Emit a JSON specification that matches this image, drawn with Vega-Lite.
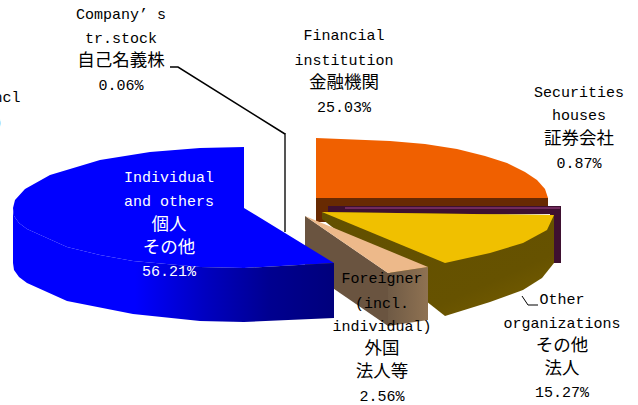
{
"$schema":"https://vega.github.io/schema/vega-lite/v6.json",
"width":638,"height":405,"padding":0,"autosize":"none","background":"white",
"config":{"view":{"stroke":null}},
"encoding":{
 "x":{"field":"x","type":"quantitative","axis":null,"scale":{"domain":[0,638],"nice":false,"zero":false}},
 "y":{"field":"y","type":"quantitative","axis":null,"scale":{"domain":[405,0],"nice":false,"zero":false}}
},
"layer":[
{"data":{"values":[{"i":0,"x":316,"y":198},{"i":1,"x":548,"y":198},{"i":2,"x":548,"y":208},{"i":3,"x":330,"y":208},{"i":4,"x":330,"y":222},{"i":5,"x":316,"y":222}]},
 "mark":{"type":"line","fill":"#682a02","strokeWidth":0},"encoding":{"order":{"field":"i","type":"quantitative"}}},
{"data":{"values":[{"i":0,"x":316,"y":138},{"i":1,"x":390,"y":141},{"i":2,"x":425,"y":144},{"i":3,"x":457,"y":149},{"i":4,"x":485,"y":156},{"i":5,"x":507,"y":163},{"i":6,"x":525,"y":172},{"i":7,"x":537,"y":180},{"i":8,"x":545,"y":189},{"i":9,"x":548,"y":198},{"i":10,"x":316,"y":198}]},
 "mark":{"type":"line","fill":"#f06000","strokeWidth":0},"encoding":{"order":{"field":"i","type":"quantitative"}}},
{"data":{"values":[{"i":0,"x":328,"y":206},{"i":1,"x":561,"y":206},{"i":2,"x":561,"y":263},{"i":3,"x":550,"y":263},{"i":4,"x":550,"y":214},{"i":5,"x":328,"y":214}]},
 "mark":{"type":"line","fill":"#3e1030","strokeWidth":0},"encoding":{"order":{"field":"i","type":"quantitative"}}},
{"data":{"values":[{"i":0,"x":345,"y":207},{"i":1,"x":560,"y":207},{"i":2,"x":560,"y":209},{"i":3,"x":345,"y":209}]},
 "mark":{"type":"line","fill":"#702a5c","strokeWidth":0},"encoding":{"order":{"field":"i","type":"quantitative"}}},
{"data":{"values":[{"i":0,"x":322,"y":212},{"i":1,"x":322,"y":219},{"i":2,"x":445,"y":316},{"i":3,"x":490,"y":302},{"i":4,"x":523,"y":290},{"i":5,"x":542,"y":278},{"i":6,"x":554,"y":263},{"i":7,"x":554,"y":215}]},
 "mark":{"type":"line","fill":{"gradient":"linear","x1":0,"y1":0,"x2":1,"y2":1,"stops":[{"offset":0,"color":"#625000"},{"offset":0.7,"color":"#665200"},{"offset":1,"color":"#7a6000"}]},"strokeWidth":0},"encoding":{"order":{"field":"i","type":"quantitative"}}},
{"data":{"values":[{"i":0,"x":322,"y":212},{"i":1,"x":554,"y":215},{"i":2,"x":547,"y":230},{"i":3,"x":523,"y":243},{"i":4,"x":490,"y":253},{"i":5,"x":445,"y":263}]},
 "mark":{"type":"line","fill":"#f0c000","strokeWidth":0},"encoding":{"order":{"field":"i","type":"quantitative"}}},
{"data":{"values":[{"i":0,"x":305,"y":216},{"i":1,"x":388,"y":273},{"i":2,"x":388,"y":326},{"i":3,"x":305,"y":269}]},
 "mark":{"type":"line","fill":"#6a5440","strokeWidth":0},"encoding":{"order":{"field":"i","type":"quantitative"}}},
{"data":{"values":[{"i":0,"x":388,"y":273},{"i":1,"x":428,"y":267},{"i":2,"x":428,"y":320},{"i":3,"x":388,"y":326}]},
 "mark":{"type":"line","fill":{"gradient":"linear","x1":0,"y1":0,"x2":1,"y2":0,"stops":[{"offset":0,"color":"#6f5a45"},{"offset":1,"color":"#8f7252"}]},"strokeWidth":0},"encoding":{"order":{"field":"i","type":"quantitative"}}},
{"data":{"values":[{"i":0,"x":305,"y":216},{"i":1,"x":428,"y":267},{"i":2,"x":388,"y":273}]},
 "mark":{"type":"line","fill":"#edb98a","strokeWidth":0},"encoding":{"order":{"field":"i","type":"quantitative"}}},
{"data":{"values":[{"i":0,"x":244,"y":147},{"i":1,"x":200,"y":148},{"i":2,"x":150,"y":152},{"i":3,"x":100,"y":160},{"i":4,"x":50,"y":175},{"i":5,"x":25,"y":189},{"i":6,"x":15,"y":200},{"i":7,"x":13,"y":208},{"i":8,"x":14,"y":216},{"i":9,"x":19,"y":223},{"i":10,"x":27,"y":229},{"i":11,"x":67,"y":247},{"i":12,"x":100,"y":255},{"i":13,"x":133,"y":261},{"i":14,"x":200,"y":267},{"i":15,"x":244,"y":268},{"i":16,"x":334,"y":263},{"i":17,"x":244,"y":208}]},
 "mark":{"type":"line","fill":"#0000ff","strokeWidth":0},"encoding":{"order":{"field":"i","type":"quantitative"}}},
{"data":{"values":[{"i":0,"x":13,"y":208},{"i":1,"x":14,"y":216},{"i":2,"x":19,"y":223},{"i":3,"x":27,"y":229},{"i":4,"x":67,"y":247},{"i":5,"x":100,"y":255},{"i":6,"x":133,"y":261},{"i":7,"x":200,"y":267},{"i":8,"x":244,"y":268},{"i":9,"x":334,"y":263},{"i":10,"x":334,"y":318},{"i":11,"x":244,"y":322},{"i":12,"x":200,"y":321},{"i":13,"x":133,"y":314},{"i":14,"x":67,"y":301},{"i":15,"x":27,"y":283},{"i":16,"x":19,"y":277},{"i":17,"x":14,"y":270},{"i":18,"x":13,"y":263}]},
 "mark":{"type":"line","fill":{"gradient":"linear","x1":0,"y1":0,"x2":1,"y2":0,"stops":[{"offset":0,"color":"#0000ff"},{"offset":0.38,"color":"#0000ff"},{"offset":0.6,"color":"#0000c0"},{"offset":0.8,"color":"#000090"},{"offset":1,"color":"#00007c"}]},"strokeWidth":0},"encoding":{"order":{"field":"i","type":"quantitative"}}},
{"data":{"values":[{"i":0,"x":285,"y":133},{"i":1,"x":285,"y":232}]},
 "mark":{"type":"line","color":"#555555","strokeWidth":2},"encoding":{"order":{"field":"i","type":"quantitative"}}},
{"data":{"values":[{"i":0,"x":170,"y":67},{"i":1,"x":178,"y":67},{"i":2,"x":285,"y":134}]},
 "mark":{"type":"line","color":"#000000","strokeWidth":1.5},"encoding":{"order":{"field":"i","type":"quantitative"}}},
{"data":{"values":[{"i":0,"x":522,"y":296},{"i":1,"x":528,"y":305},{"i":2,"x":538,"y":305}]},
 "mark":{"type":"line","color":"#000000","strokeWidth":1},"encoding":{"order":{"field":"i","type":"quantitative"}}},
{"data":{"values":[
 {"t":"Foreigner (incl","x":-47,"y":97,"c":"black"},{"t":"individual)","x":-47,"y":122,"c":"black"},
 {"t":"Company’ s","x":121,"y":14,"c":"black"},{"t":"tr.stock","x":121,"y":38,"c":"black"},{"t":"0.06%","x":121,"y":85,"c":"black"},
 {"t":"Financial","x":344,"y":35,"c":"black"},{"t":"institution","x":344,"y":60,"c":"black"},{"t":"25.03%","x":344,"y":107,"c":"black"},
 {"t":"Securities","x":579,"y":92,"c":"black"},{"t":"houses","x":579,"y":115,"c":"black"},{"t":"0.87%","x":579,"y":163,"c":"black"},
 {"t":"Individual","x":169,"y":177,"c":"white"},{"t":"and others","x":169,"y":201,"c":"white"},{"t":"56.21%","x":169,"y":271,"c":"white"},
 {"t":"Foreigner","x":382,"y":278,"c":"black"},{"t":"(incl.","x":382,"y":303,"c":"black"},{"t":"individual)","x":382,"y":326,"c":"black"},{"t":"2.56%","x":382,"y":396,"c":"black"},
 {"t":"Other","x":562,"y":299,"c":"black"},{"t":"organizations","x":562,"y":323,"c":"black"},{"t":"15.27%","x":562,"y":392,"c":"black"}
 ]},
 "mark":{"type":"text","font":"Liberation Mono","fontSize":15,"align":"center","baseline":"middle"},
 "encoding":{"text":{"field":"t"},"color":{"field":"c","type":"nominal","scale":null}}},
{"data":{"values":[
 {"t":"自己名義株","x":121,"y":61,"c":"black"},{"t":"金融機関","x":344,"y":83,"c":"black"},{"t":"証券会社","x":579,"y":139,"c":"black"},
 {"t":"個人","x":169,"y":225,"c":"white"},{"t":"その他","x":169,"y":248,"c":"white"},
 {"t":"外国","x":382,"y":349,"c":"black"},{"t":"法人等","x":382,"y":372,"c":"black"},
 {"t":"その他","x":562,"y":346,"c":"black"},{"t":"法人","x":562,"y":369,"c":"black"}
 ]},
 "mark":{"type":"text","font":"Noto Sans CJK JP","fontSize":17.5,"align":"center","baseline":"middle"},
 "encoding":{"text":{"field":"t"},"color":{"field":"c","type":"nominal","scale":null}}}
]
}
